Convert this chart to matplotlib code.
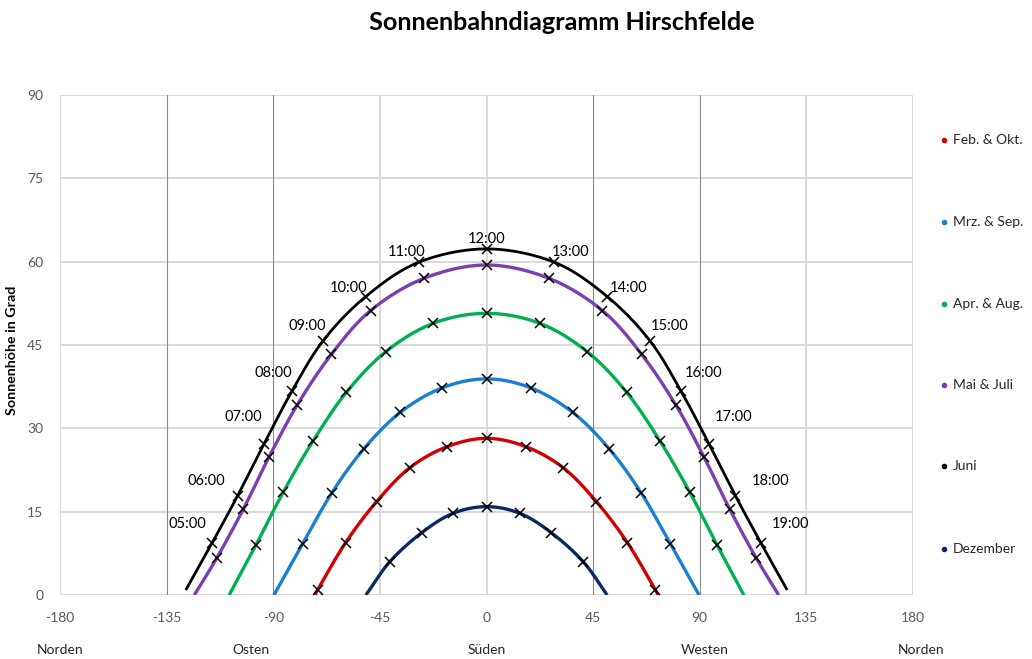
import numpy as np
import matplotlib
matplotlib.use("Agg")
import matplotlib.pyplot as plt
from matplotlib.lines import Line2D

plt.rcParams['font.family'] = ['Lato', 'DejaVu Sans']
plt.rcParams['axes.unicode_minus'] = False

# ---------------- data ----------------
series_names = ["Feb. & Okt.", "Mrz. & Sep.", "Apr. & Aug.", "Mai & Juli", "Juni", "Dezember"]
series_colors = ["#d40000", "#1a7fd0", "#00b050", "#7b3fb0", "#000000", "#0a2a66"]

# hourly positions from morning to noon (afternoon is the mirror image)
feb_az = [-71.3, -59.5, -46.4, -32.4, -16.6, 0.0]
feb_alt = [0.9, 9.4, 16.8, 22.9, 26.7, 28.2]
feb_rise = (-72.4, 0.0)

mrz_az = [-77.6, -65.4, -51.8, -36.3, -18.6, 0.0]
mrz_alt = [9.2, 18.3, 26.3, 32.9, 37.3, 38.9]
mrz_rise = (-89.7, 0.0)

apr_az = [-97.3, -85.8, -73.1, -59.1, -42.5, -22.5, 0.0]
apr_alt = [9.0, 18.5, 27.8, 36.5, 43.8, 48.9, 50.7]
apr_rise = (-108.6, 0.0)

mai_az = [-113.9, -102.7, -91.7, -79.9, -65.5, -48.9, -26.4, 0.0]
mai_alt = [6.6, 15.4, 24.9, 34.2, 43.3, 51.2, 57.0, 59.4]
mai_rise = (-123.3, 0.0)

jun_az = [-115.9, -105.0, -93.9, -82.1, -68.9, -51.0, -28.6, 0.0]
jun_alt = [9.3, 17.9, 27.2, 36.7, 45.8, 53.7, 59.9, 62.3]
jun_rise = (-126.9, 0.9)

dez_az = [-40.8, -27.4, -14.1, 0.0]
dez_alt = [6.0, 11.2, 14.7, 15.9]
dez_rise = (-50.9, 0.0)

time_labels = ["05:00", "06:00", "07:00", "08:00", "09:00", "10:00", "11:00", "12:00",
               "13:00", "14:00", "15:00", "16:00", "17:00", "18:00", "19:00"]

x_ticks = [-180, -135, -90, -45, 0, 45, 90, 135, 180]
y_ticks = [0, 15, 30, 45, 60, 75, 90]
directions = ["Norden", "Osten", "Süden", "Westen", "Norden"]

# ---------------- helpers ----------------
def full_day(az, alt, rise):
    """morning + mirrored afternoon, with sunrise / sunset end points"""
    az = list(az); alt = list(alt)
    m_az = az + [-a for a in az[-2::-1]]
    m_alt = alt + alt[-2::-1]
    l_az = [rise[0]] + m_az + [-rise[0]]
    l_alt = [rise[1]] + m_alt + [rise[1]]
    return np.array(m_az), np.array(m_alt), np.array(l_az), np.array(l_alt)

def catmull_rom(x, y, n=24):
    p = np.column_stack([x, y])
    p = np.vstack([2 * p[0] - p[1], p, 2 * p[-1] - p[-2]])
    out = []
    t = np.linspace(0, 1, n, endpoint=False)[:, None]
    for i in range(1, len(p) - 2):
        p0, p1, p2, p3 = p[i - 1], p[i], p[i + 1], p[i + 2]
        seg = 0.5 * ((2 * p1) + (-p0 + p2) * t + (2 * p0 - 5 * p1 + 4 * p2 - p3) * t ** 2
                     + (-p0 + 3 * p1 - 3 * p2 + p3) * t ** 3)
        out.append(seg)
    out.append(p[-2][None, :])
    out = np.vstack(out)
    return out[:, 0], out[:, 1]

# ---------------- figure ----------------
W, H = 1032, 659
fig = plt.figure(figsize=(W / 100, H / 100), dpi=100)
ax = fig.add_axes([60 / W, (H - 595) / H, 853 / W, 500 / H])

ax.set_xlim(-180, 180)
ax.set_ylim(0, 90)
for s in ax.spines.values():
    s.set_visible(False)
ax.tick_params(length=0, colors="#595959", labelsize=10)
ax.tick_params(axis='y', pad=12)
ax.tick_params(axis='x', pad=12)
ax.set_xticks(x_ticks)
ax.set_yticks(y_ticks)

light = "#d9d9d9"
dark = "#8a8a8a"
for yv in y_ticks:
    ax.axhline(yv, color=light, lw=1.4, zorder=0)
for xv in x_ticks:
    if xv in (-135, -90, 45, 90):
        ax.axvline(xv, color=dark, lw=0.8, zorder=0.5)
    else:
        ax.axvline(xv, color=light, lw=1.4, zorder=0)

all_series = [
    (feb_az, feb_alt, feb_rise),
    (mrz_az, mrz_alt, mrz_rise),
    (apr_az, apr_alt, apr_rise),
    (mai_az, mai_alt, mai_rise),
    (jun_az, jun_alt, jun_rise),
    (dez_az, dez_alt, dez_rise),
]

for (az, alt, rise), col, name in zip(all_series, series_colors, series_names):
    m_az, m_alt, l_az, l_alt = full_day(az, alt, rise)
    sx, sy = catmull_rom(l_az, l_alt)
    lw = 2.0 if col == "#000000" else 2.4
    ax.plot(sx, sy, color=col, lw=lw, zorder=3, solid_capstyle='butt')
    ax.plot(m_az, m_alt, ls='none', marker='x', ms=7, mew=1.1, color='black', zorder=4)
    if name == "Juni":
        offsets = [(-25, 19), (-31, 15), (-21, 27), (-19, 18), (-16, 15), (-17, 9), (-12, 10), (0, 10)]
        offsets = offsets + [(-dx + 4, dy) for dx, dy in offsets[-2::-1]]
        for xa, ya, lab, (dx, dy) in zip(m_az, m_alt, time_labels, offsets):
            ax.annotate(lab, (xa, ya), xytext=(dx, dy), textcoords='offset pixels',
                        ha='center', va='center', fontsize=10.5, color='black', zorder=5)

ax.set_ylabel("Sonnenhöhe in Grad", fontsize=10.3, fontweight='bold', labelpad=8)
ax.yaxis.set_label_coords(-(60 - 18) / 853, 0.49)

fig.text(562 / W, 1 - 22 / H, "Sonnenbahndiagramm Hirschfelde", ha='center', va='center',
         fontsize=18.2, fontweight='bold')

dir_px = [60, 251, 487, 705, 921]
for px, lab in zip(dir_px, directions):
    fig.text(px / W, 1 - 650 / H, lab, ha='center', va='center', fontsize=10, color='#262626')

# legend (manual, Excel-like spacing)
leg_y = [140, 222, 304, 385, 466, 549]
for yy, col, name in zip(leg_y, series_colors, series_names):
    fig.add_artist(Line2D([944 / W], [1 - yy / H], marker='o', ms=3, color=col,
                          ls='none', transform=fig.transFigure))
    fig.text(953 / W, 1 - yy / H, name, ha='left', va='center', fontsize=10, color='#262626')

fig.savefig("out.png", dpi=100)
